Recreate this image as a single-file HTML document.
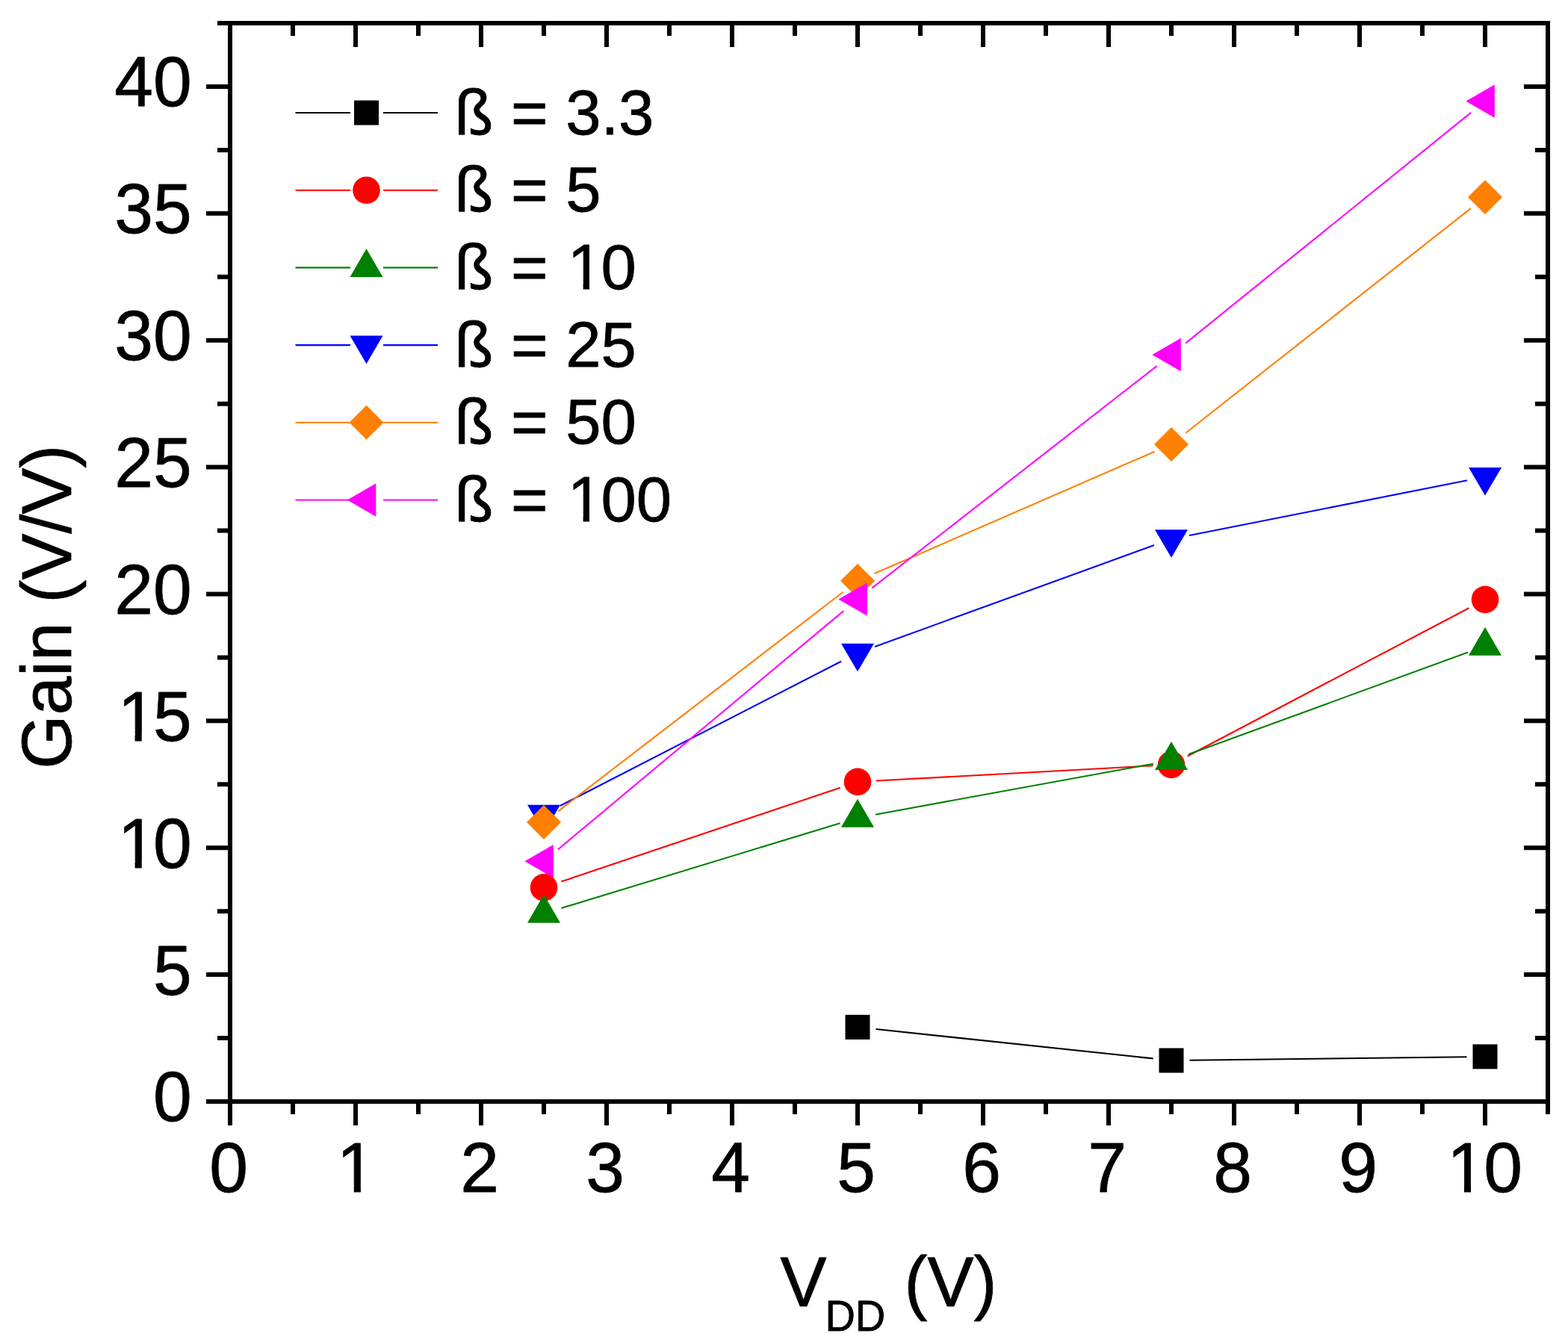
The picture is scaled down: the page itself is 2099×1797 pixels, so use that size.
<!DOCTYPE html>
<html><head><meta charset="utf-8"><title>Gain vs VDD</title>
<style>html,body{margin:0;padding:0;background:#fff;}svg{display:block;}text{stroke:#000;stroke-width:0.8px;stroke-linejoin:round;}</style>
</head><body>
<svg width="2099" height="1797" viewBox="0 0 2099 1797">
<rect width="2099" height="1797" fill="#fff"/>
<line x1="1172.36" y1="1377.99" x2="1543.64" y2="1417.41" stroke="#000000" stroke-width="2.1"/><line x1="1592.50" y1="1419.70" x2="1963.50" y2="1415.20" stroke="#000000" stroke-width="2.1"/><rect x="1131.50" y="1358.90" width="33" height="33" fill="#000000"/><rect x="1551.50" y="1403.50" width="33" height="33" fill="#000000"/><rect x="1971.50" y="1398.40" width="33" height="33" fill="#000000"/>
<line x1="749.79" y1="1079.00" x2="1126.21" y2="885.50" stroke="#0000FF" stroke-width="2.1"/><line x1="1171.03" y1="865.93" x2="1544.97" y2="730.07" stroke="#0000FF" stroke-width="2.1"/><line x1="1592.03" y1="716.94" x2="1963.97" y2="643.26" stroke="#0000FF" stroke-width="2.1"/><polygon points="706.00,1077.67 750.00,1077.67 728.00,1115.27" fill="#0000FF"/><polygon points="1126.00,861.77 1170.00,861.77 1148.00,899.37" fill="#0000FF"/><polygon points="1546.00,709.17 1590.00,709.17 1568.00,746.77" fill="#0000FF"/><polygon points="1966.00,625.97 2010.00,625.97 1988.00,663.57" fill="#0000FF"/>
<line x1="747.42" y1="1086.06" x2="1128.58" y2="792.74" stroke="#FF8000" stroke-width="2.1"/><line x1="1170.46" y1="768.02" x2="1545.54" y2="604.68" stroke="#FF8000" stroke-width="2.1"/><line x1="1587.24" y1="579.74" x2="1968.76" y2="279.06" stroke="#FF8000" stroke-width="2.1"/><polygon points="728.00,1078.00 751.00,1101.00 728.00,1124.00 705.00,1101.00" fill="#FF8000"/><polygon points="1148.00,754.80 1171.00,777.80 1148.00,800.80 1125.00,777.80" fill="#FF8000"/><polygon points="1568.00,571.90 1591.00,594.90 1568.00,617.90 1545.00,594.90" fill="#FF8000"/><polygon points="1988.00,240.90 2011.00,263.90 1988.00,286.90 1965.00,263.90" fill="#FF8000"/>
<line x1="746.80" y1="1137.59" x2="1129.20" y2="818.11" stroke="#FF00FF" stroke-width="2.1"/><line x1="1167.32" y1="787.34" x2="1548.68" y2="490.06" stroke="#FF00FF" stroke-width="2.1"/><line x1="1587.05" y1="459.60" x2="1968.95" y2="150.90" stroke="#FF00FF" stroke-width="2.1"/><polygon points="702.33,1153.30 740.83,1131.10 740.83,1175.50" fill="#FF00FF"/><polygon points="1122.33,802.40 1160.83,780.20 1160.83,824.60" fill="#FF00FF"/><polygon points="1542.33,475.00 1580.83,452.80 1580.83,497.20" fill="#FF00FF"/><polygon points="1962.33,135.50 2000.83,113.30 2000.83,157.70" fill="#FF00FF"/>
<line x1="751.22" y1="1180.58" x2="1124.78" y2="1054.72" stroke="#FF0000" stroke-width="2.1"/><line x1="1172.46" y1="1045.56" x2="1543.54" y2="1025.24" stroke="#FF0000" stroke-width="2.1"/><line x1="1589.68" y1="1012.49" x2="1966.32" y2="814.21" stroke="#FF0000" stroke-width="2.1"/><circle cx="728.00" cy="1188.40" r="18.3" fill="#FF0000"/><circle cx="1148.00" cy="1046.90" r="18.3" fill="#FF0000"/><circle cx="1568.00" cy="1023.90" r="18.3" fill="#FF0000"/><circle cx="1988.00" cy="802.80" r="18.3" fill="#FF0000"/>
<line x1="751.43" y1="1216.05" x2="1124.57" y2="1102.25" stroke="#008000" stroke-width="2.1"/><line x1="1172.10" y1="1090.69" x2="1543.90" y2="1022.71" stroke="#008000" stroke-width="2.1"/><line x1="1591.02" y1="1009.91" x2="1964.98" y2="873.59" stroke="#008000" stroke-width="2.1"/><polygon points="728.00,1197.87 750.00,1235.87 706.00,1235.87" fill="#008000"/><polygon points="1148.00,1069.77 1170.00,1107.77 1126.00,1107.77" fill="#008000"/><polygon points="1568.00,992.97 1590.00,1030.97 1546.00,1030.97" fill="#008000"/><polygon points="1988.00,839.87 2010.00,877.87 1966.00,877.87" fill="#008000"/>
<path d="M308.00,1475.00v32M308.00,31.02v32M392.00,1475.00v17M392.00,31.02v17M476.00,1475.00v32M476.00,31.02v32M560.00,1475.00v17M560.00,31.02v17M644.00,1475.00v32M644.00,31.02v32M728.00,1475.00v17M728.00,31.02v17M812.00,1475.00v32M812.00,31.02v32M896.00,1475.00v17M896.00,31.02v17M980.00,1475.00v32M980.00,31.02v32M1064.00,1475.00v17M1064.00,31.02v17M1148.00,1475.00v32M1148.00,31.02v32M1232.00,1475.00v17M1232.00,31.02v17M1316.00,1475.00v32M1316.00,31.02v32M1400.00,1475.00v17M1400.00,31.02v17M1484.00,1475.00v32M1484.00,31.02v32M1568.00,1475.00v17M1568.00,31.02v17M1652.00,1475.00v32M1652.00,31.02v32M1736.00,1475.00v17M1736.00,31.02v17M1820.00,1475.00v32M1820.00,31.02v32M1904.00,1475.00v17M1904.00,31.02v17M1988.00,1475.00v32M1988.00,31.02v32M2072.00,1475.00v17M2072.00,31.02v17M308.00,1475.00h-32M2072.00,1475.00h-32M308.00,1390.06h-17M2072.00,1390.06h-17M308.00,1305.12h-32M2072.00,1305.12h-32M308.00,1220.18h-17M2072.00,1220.18h-17M308.00,1135.24h-32M2072.00,1135.24h-32M308.00,1050.30h-17M2072.00,1050.30h-17M308.00,965.36h-32M2072.00,965.36h-32M308.00,880.42h-17M2072.00,880.42h-17M308.00,795.48h-32M2072.00,795.48h-32M308.00,710.54h-17M2072.00,710.54h-17M308.00,625.60h-32M2072.00,625.60h-32M308.00,540.66h-17M2072.00,540.66h-17M308.00,455.72h-32M2072.00,455.72h-32M308.00,370.78h-17M2072.00,370.78h-17M308.00,285.84h-32M2072.00,285.84h-32M308.00,200.90h-17M2072.00,200.90h-17M308.00,115.96h-32M2072.00,115.96h-32M308.00,31.02h-17M2072.00,31.02h-17" stroke="#000" stroke-width="6" fill="none"/>
<rect x="308.00" y="31.02" width="1764.00" height="1443.98" fill="none" stroke="#000" stroke-width="6"/>
<g font-family='"Liberation Sans", Arial, sans-serif' font-size="93" fill="#000"><text transform="translate(280.34,1596.00) scale(1,1.02)">0</text><text transform="translate(450.84,1596.00) scale(1,1.02)">1</text><text transform="translate(616.34,1596.00) scale(1,1.02)">2</text><text transform="translate(784.34,1596.00) scale(1,1.02)">3</text><text transform="translate(952.34,1596.00) scale(1,1.02)">4</text><text transform="translate(1120.34,1596.00) scale(1,1.02)">5</text><text transform="translate(1288.34,1596.00) scale(1,1.02)">6</text><text transform="translate(1456.34,1596.00) scale(1,1.02)">7</text><text transform="translate(1624.34,1596.00) scale(1,1.02)">8</text><text transform="translate(1792.34,1596.00) scale(1,1.02)">9</text><text transform="translate(1936.98,1596.00) scale(1,1.02)">1</text><text transform="translate(1986.20,1596.00) scale(1,1.02)">0</text><text transform="translate(205.08,1501.40) scale(1,1.02)">0</text><text transform="translate(205.08,1331.52) scale(1,1.02)">5</text><text transform="translate(157.66,1161.64) scale(1,1.02)">1</text><text transform="translate(205.08,1161.64) scale(1,1.02)">0</text><text transform="translate(157.66,991.76) scale(1,1.02)">1</text><text transform="translate(205.08,991.76) scale(1,1.02)">5</text><text transform="translate(153.36,821.88) scale(1,1.02)">20</text><text transform="translate(153.36,652.00) scale(1,1.02)">25</text><text transform="translate(153.36,482.12) scale(1,1.02)">30</text><text transform="translate(153.36,312.24) scale(1,1.02)">35</text><text transform="translate(153.36,142.36) scale(1,1.02)">40</text></g>
<g font-family='"Liberation Sans", Arial, sans-serif' font-size="93"><text transform="translate(1044.4,1749) scale(1,1.02)">V</text><text font-size="56" transform="translate(1104.4,1782) scale(1,1.02)">DD</text><text transform="translate(1210.6,1749) scale(1,1.02)">(V)</text></g>
<text font-family='"Liberation Sans", Arial, sans-serif' font-size="93" transform="translate(94.8,1029.8) rotate(-90) scale(1,1.02)">Gain (V/V)</text>
<g font-family='"Liberation Sans", Arial, sans-serif' font-size="85"><line x1="395.5" y1="151.00" x2="469" y2="151.00" stroke="#000000" stroke-width="2.1"/><line x1="513" y1="151.00" x2="586" y2="151.00" stroke="#000000" stroke-width="2.1"/><rect x="474.00" y="134.50" width="33" height="33" fill="#000000"/><text transform="translate(608.4,179.50) scale(1,1.01)">ß = </text><text transform="translate(757.19,179.50) scale(1,1.01)">3.3</text><line x1="395.5" y1="254.70" x2="469" y2="254.70" stroke="#FF0000" stroke-width="2.1"/><line x1="513" y1="254.70" x2="586" y2="254.70" stroke="#FF0000" stroke-width="2.1"/><circle cx="490.50" cy="254.70" r="18.3" fill="#FF0000"/><text transform="translate(608.4,283.20) scale(1,1.01)">ß = </text><text transform="translate(757.19,283.20) scale(1,1.01)">5</text><line x1="395.5" y1="358.40" x2="469" y2="358.40" stroke="#008000" stroke-width="2.1"/><line x1="513" y1="358.40" x2="586" y2="358.40" stroke="#008000" stroke-width="2.1"/><polygon points="490.50,333.07 512.50,371.07 468.50,371.07" fill="#008000"/><text transform="translate(608.4,386.90) scale(1,1.01)">ß = </text><text transform="translate(759.69,386.90) scale(1,1.01)">1</text><text transform="translate(804.46,386.90) scale(1,1.01)">0</text><line x1="395.5" y1="462.10" x2="469" y2="462.10" stroke="#0000FF" stroke-width="2.1"/><line x1="513" y1="462.10" x2="586" y2="462.10" stroke="#0000FF" stroke-width="2.1"/><polygon points="468.50,449.57 512.50,449.57 490.50,487.17" fill="#0000FF"/><text transform="translate(608.4,490.60) scale(1,1.01)">ß = </text><text transform="translate(757.19,490.60) scale(1,1.01)">25</text><line x1="395.5" y1="565.80" x2="469" y2="565.80" stroke="#FF8000" stroke-width="2.1"/><line x1="513" y1="565.80" x2="586" y2="565.80" stroke="#FF8000" stroke-width="2.1"/><polygon points="490.50,542.80 513.50,565.80 490.50,588.80 467.50,565.80" fill="#FF8000"/><text transform="translate(608.4,594.30) scale(1,1.01)">ß = </text><text transform="translate(757.19,594.30) scale(1,1.01)">50</text><line x1="395.5" y1="669.50" x2="469" y2="669.50" stroke="#FF00FF" stroke-width="2.1"/><line x1="513" y1="669.50" x2="586" y2="669.50" stroke="#FF00FF" stroke-width="2.1"/><polygon points="464.83,669.50 503.33,647.30 503.33,691.70" fill="#FF00FF"/><text transform="translate(608.4,698.00) scale(1,1.01)">ß = </text><text transform="translate(759.69,698.00) scale(1,1.01)">1</text><text transform="translate(804.46,698.00) scale(1,1.01)">00</text></g>
<g fill="#fff"><rect x="456.32" y="1587.31" width="17.45" height="10.29"/><rect x="482.89" y="1587.31" width="16.73" height="10.29"/><rect x="1942.46" y="1587.31" width="17.45" height="10.29"/><rect x="1969.03" y="1587.31" width="16.73" height="10.29"/><rect x="163.14" y="1152.95" width="17.45" height="10.29"/><rect x="189.71" y="1152.95" width="16.73" height="10.29"/><rect x="163.14" y="983.07" width="17.45" height="10.29"/><rect x="189.71" y="983.07" width="16.73" height="10.29"/><rect x="764.57" y="378.89" width="16.05" height="9.61"/><rect x="789.03" y="378.89" width="15.39" height="9.61"/><rect x="764.57" y="689.99" width="16.05" height="9.61"/><rect x="789.03" y="689.99" width="15.39" height="9.61"/></g>
</svg>
</body></html>
